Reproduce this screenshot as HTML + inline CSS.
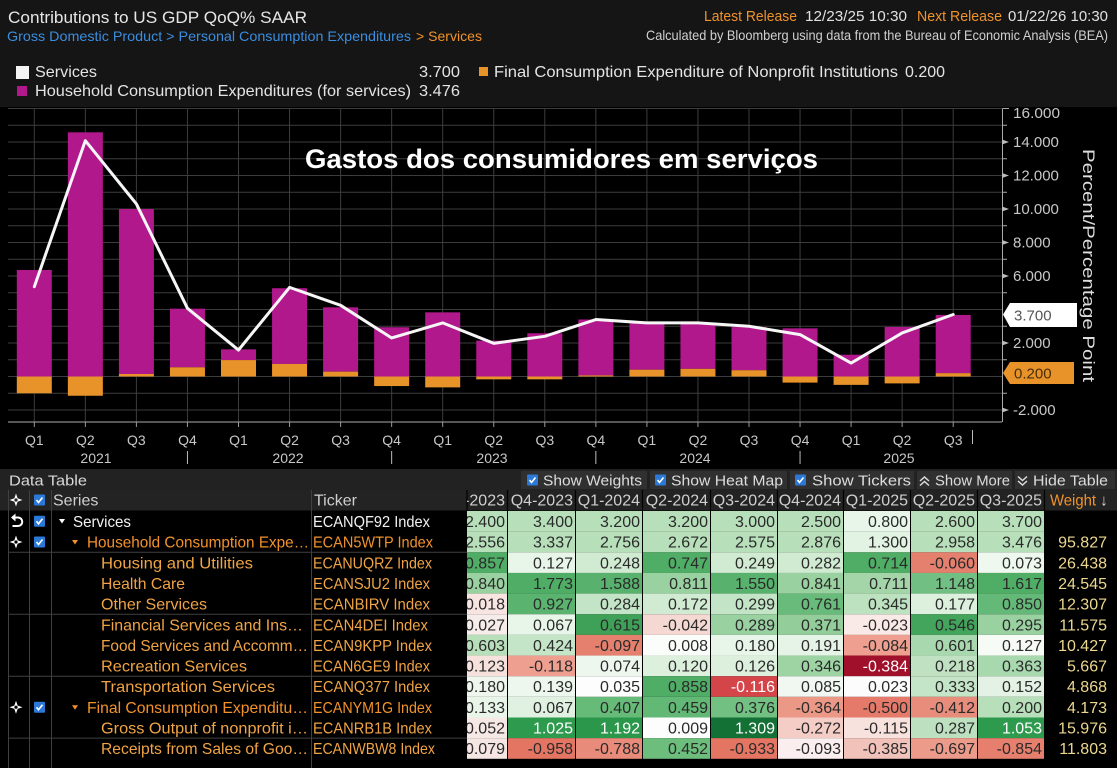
<!DOCTYPE html>
<html><head><meta charset="utf-8"><style>
html,body{margin:0;padding:0;background:#000;width:1117px;height:768px;overflow:hidden}
svg{display:block}
text{font-family:"Liberation Sans",sans-serif}
</style></head><body>
<svg width="1117" height="768" viewBox="0 0 1117 768" xmlns="http://www.w3.org/2000/svg">
<defs><clipPath id="c0"><rect x="467" y="488" width="40" height="280"/></clipPath></defs>
<rect x="0" y="0" width="1117" height="768" fill="#000"/>
<!-- header -->
<rect x="0" y="0" width="1117" height="107" fill="#151515"/>
<text x="8" y="23" font-size="17" fill="#e6e6e6" textLength="299" lengthAdjust="spacingAndGlyphs">Contributions to US GDP QoQ% SAAR</text>
<text x="7" y="41" font-size="14" fill="#3b8de0" textLength="404" lengthAdjust="spacingAndGlyphs">Gross Domestic Product &gt; Personal Consumption Expenditures</text>
<text x="416" y="41" font-size="14" fill="#f0932b" textLength="66" lengthAdjust="spacingAndGlyphs">&gt; Services</text>
<text x="704" y="21" font-size="15" fill="#f0932b" textLength="93" lengthAdjust="spacingAndGlyphs">Latest Release</text>
<text x="805" y="21" font-size="15" fill="#e0e0e0" textLength="102" lengthAdjust="spacingAndGlyphs">12/23/25 10:30</text>
<text x="917" y="21" font-size="15" fill="#f0932b" textLength="85" lengthAdjust="spacingAndGlyphs">Next Release</text>
<text x="1008" y="21" font-size="15" fill="#e0e0e0" textLength="100" lengthAdjust="spacingAndGlyphs">01/22/26 10:30</text>
<text x="646" y="40" font-size="14" fill="#d0d0d0" textLength="462" lengthAdjust="spacingAndGlyphs">Calculated by Bloomberg using data from the Bureau of Economic Analysis (BEA)</text>
<rect x="16" y="66" width="13" height="13" fill="#f4f4f4"/>
<text x="35" y="77" font-size="16" fill="#e4e4e4" textLength="62" lengthAdjust="spacingAndGlyphs">Services</text>
<text x="419" y="77" font-size="16" fill="#e4e4e4" textLength="41" lengthAdjust="spacingAndGlyphs">3.700</text>
<rect x="479" y="67" width="9" height="9" fill="#e8922a"/>
<text x="494" y="77" font-size="16" fill="#e4e4e4" textLength="404" lengthAdjust="spacingAndGlyphs">Final Consumption Expenditure of Nonprofit Institutions</text>
<text x="905" y="77" font-size="16" fill="#e4e4e4" textLength="40" lengthAdjust="spacingAndGlyphs">0.200</text>
<rect x="17" y="86" width="10" height="10" fill="#b0188c"/>
<text x="35" y="96" font-size="16" fill="#e4e4e4" textLength="376" lengthAdjust="spacingAndGlyphs">Household Consumption Expenditures (for services)</text>
<text x="419" y="96" font-size="16" fill="#e4e4e4" textLength="41" lengthAdjust="spacingAndGlyphs">3.476</text>

<!-- chart grid -->
<g stroke="#3d3d3d" stroke-width="1" fill="none">
<path d="M8 108.5H1002M8 125.25H1002M8 142H1002M8 158.75H1002M8 175.5H1002M8 192.25H1002M8 209H1002M8 225.75H1002M8 242.5H1002M8 259.25H1002M8 276H1002M8 292.75H1002M8 309.5H1002M8 326.25H1002M8 343H1002M8 359.75H1002M8 376.5H1002M8 393.25H1002M8 410H1002"/>
<path d="M34.3 108V422M85.35 108V422M136.4 108V422M187.45 108V422M238.5 108V422M289.55 108V422M340.6 108V422M391.65 108V422M442.7 108V422M493.75 108V422M544.8 108V422M595.85 108V422M646.9 108V422M697.95 108V422M749 108V422M800.05 108V422M851.1 108V422M902.15 108V422M953.2 108V422"/>
</g>
<!-- bars magenta -->
<g fill="#b0188c">
<rect x="16.8" y="269.97" width="35" height="106.53"/>
<rect x="67.85" y="132.3" width="35" height="244.2"/>
<rect x="118.9" y="209" width="35" height="164.99"/>
<rect x="169.95" y="308.66" width="35" height="58.63"/>
<rect x="221" y="349.36" width="35" height="10.72"/>
<rect x="272.05" y="288.23" width="35" height="75.71"/>
<rect x="323.1" y="307.32" width="35" height="64.32"/>
<rect x="374.15" y="327.25" width="35" height="49.25"/>
<rect x="425.2" y="312.35" width="35" height="64.15"/>
<rect x="476.25" y="340.65" width="35" height="35.85"/>
<rect x="527.3" y="333.28" width="35" height="43.22"/>
<rect x="578.35" y="319.48" width="35" height="55.9"/>
<rect x="629.4" y="323.52" width="35" height="46.16"/>
<rect x="680.45" y="324.06" width="35" height="44.75"/>
<rect x="731.5" y="327.07" width="35" height="43.13"/>
<rect x="782.55" y="328.33" width="35" height="48.17"/>
<rect x="833.6" y="354.72" width="35" height="21.78"/>
<rect x="884.65" y="326.95" width="35" height="49.55"/>
<rect x="935.7" y="314.93" width="35" height="58.22"/>
</g>
<g fill="#e8922a">
<rect x="16.8" y="376.5" width="35" height="16.75"/>
<rect x="67.85" y="376.5" width="35" height="19.26"/>
<rect x="118.9" y="373.99" width="35" height="2.51"/>
<rect x="169.95" y="367.29" width="35" height="9.21"/>
<rect x="221" y="360.08" width="35" height="16.42"/>
<rect x="272.05" y="363.94" width="35" height="12.56"/>
<rect x="323.1" y="371.64" width="35" height="4.86"/>
<rect x="374.15" y="376.5" width="35" height="9.55"/>
<rect x="425.2" y="376.5" width="35" height="10.89"/>
<rect x="476.25" y="376.5" width="35" height="2.85"/>
<rect x="527.3" y="376.5" width="35" height="2.85"/>
<rect x="578.35" y="375.38" width="35" height="1.12"/>
<rect x="629.4" y="369.68" width="35" height="6.82"/>
<rect x="680.45" y="368.81" width="35" height="7.69"/>
<rect x="731.5" y="370.2" width="35" height="6.3"/>
<rect x="782.55" y="376.5" width="35" height="6.1"/>
<rect x="833.6" y="376.5" width="35" height="8.38"/>
<rect x="884.65" y="376.5" width="35" height="6.9"/>
<rect x="935.7" y="373.15" width="35" height="3.35"/>
</g>
<polyline fill="none" stroke="#f6f6f6" stroke-width="3" stroke-linejoin="round" stroke-linecap="round" points="34.3,286.72 85.35,140.66 136.4,203.97 187.45,308.33 238.5,350.03 289.55,287.39 340.6,305.31 391.65,337.97 442.7,322.9 493.75,343.33 544.8,336.3 595.85,319.55 646.9,322.9 697.95,322.9 749,326.25 800.05,334.62 851.1,363.1 902.15,332.95 953.2,314.52"/>
<text x="305" y="168" font-size="27" font-weight="bold" fill="#ffffff" textLength="513" lengthAdjust="spacingAndGlyphs">Gastos dos consumidores em serviços</text>

<!-- right axis -->
<g stroke="#aaaaaa" stroke-width="1" fill="none">
<path d="M1002.5 108.5V422M1002.5 108.5H1009"/>
<path d="M1002 125.25H1007M1002 158.75H1007M1002 192.25H1007M1002 225.75H1007M1002 259.25H1007M1002 292.75H1007M1002 326.25H1007M1002 359.75H1007M1002 393.25H1007"/>
</g>
<g fill="#bbbbbb">
<polygon points="1002,139.5 1009,142 1002,144.5"/>
<polygon points="1002,173 1009,175.5 1002,178"/>
<polygon points="1002,206.5 1009,209 1002,211.5"/>
<polygon points="1002,240 1009,242.5 1002,245"/>
<polygon points="1002,273.5 1009,276 1002,278.5"/>
<polygon points="1002,340.5 1009,343 1002,345.5"/>
<polygon points="1002,407.5 1009,410 1002,412.5"/>
</g>
<g font-size="15" fill="#c8c8c8">
<text x="1013" y="118" textLength="47" lengthAdjust="spacingAndGlyphs">16.000</text>
<text x="1013" y="147">14.000</text>
<text x="1013" y="180.5">12.000</text>
<text x="1013" y="214">10.000</text>
<text x="1013" y="247.5">8.000</text>
<text x="1013" y="281">6.000</text>
<text x="1013" y="348">2.000</text>
<text x="1013" y="415">-2.000</text>
</g>
<polygon points="1003,314.5 1010,303 1077,303 1077,327 1010,327" fill="#ffffff"/>
<text x="1014" y="320.5" font-size="15" fill="#555555">3.700</text>
<polygon points="1003,373 1010,362 1074,362 1074,384 1010,384" fill="#e8922a"/>
<text x="1014" y="378.5" font-size="15" fill="#4a2e08">0.200</text>
<text transform="translate(1083,149) rotate(90)" x="0" y="0" font-size="17" fill="#dddddd" textLength="233" lengthAdjust="spacingAndGlyphs">Percent/Percentage Point</text>

<!-- bottom axis -->
<path d="M8 422H1002" stroke="#8a8a8a" stroke-width="1.2"/>
<g stroke="#9a9a9a" stroke-width="1">
<path d="M34.3 422V427M85.35 422V427M136.4 422V427M187.45 422V427M238.5 422V427M289.55 422V427M340.6 422V427M391.65 422V427M442.7 422V427M493.75 422V427M544.8 422V427M595.85 422V427M646.9 422V427M697.95 422V427M749 422V427M800.05 422V427M851.1 422V427M902.15 422V427M953.2 422V427"/>
<path d="M187.45 451V464M391.65 451V464M595.85 451V464M800.05 451V464M972.5 430V444" stroke="#bbbbbb"/>
</g>
<g font-size="14" fill="#c8c8c8" text-anchor="middle">
<text x="34.3" y="445">Q1</text><text x="85.35" y="445">Q2</text><text x="136.4" y="445">Q3</text><text x="187.45" y="445">Q4</text>
<text x="238.5" y="445">Q1</text><text x="289.55" y="445">Q2</text><text x="340.6" y="445">Q3</text><text x="391.65" y="445">Q4</text>
<text x="442.7" y="445">Q1</text><text x="493.75" y="445">Q2</text><text x="544.8" y="445">Q3</text><text x="595.85" y="445">Q4</text>
<text x="646.9" y="445">Q1</text><text x="697.95" y="445">Q2</text><text x="749" y="445">Q3</text><text x="800.05" y="445">Q4</text>
<text x="851.1" y="445">Q1</text><text x="902.15" y="445">Q2</text><text x="953.2" y="445">Q3</text>
<text x="96" y="463">2021</text><text x="288" y="463">2022</text><text x="492" y="463">2023</text><text x="695" y="463">2024</text><text x="899" y="463">2025</text>
</g>

<!-- data table bar -->
<rect x="0" y="469" width="1117" height="21" fill="#222222"/>
<text x="9" y="485.5" font-size="15" fill="#d8d8d8" textLength="78" lengthAdjust="spacingAndGlyphs">Data Table</text>
<g fill="#303030">
<rect x="521" y="471" width="126" height="18"/>
<rect x="650" y="471" width="137" height="18"/>
<rect x="790" y="471" width="124" height="18"/>
<rect x="917" y="471" width="95" height="18"/>
<rect x="1015" y="471" width="100" height="18"/>
</g>
<g fill="#2b78d6"><rect x="527" y="474.5" width="11" height="11" rx="1"/><rect x="655" y="474.5" width="11" height="11" rx="1"/><rect x="795" y="474.5" width="11" height="11" rx="1"/></g>
<g stroke="#ffffff" stroke-width="1.6" fill="none"><path d="M529.5 480 L531.5 482.5 L535.5 477.5"/><path d="M657.5 480 L659.5 482.5 L663.5 477.5"/><path d="M797.5 480 L799.5 482.5 L803.5 477.5"/></g>
<g stroke="#dddddd" stroke-width="1.5" fill="none"><path d="M920 481 L924.5 477 L929 481 M920 485.5 L924.5 481.5 L929 485.5"/><path d="M1018 476.5 L1022.5 480.5 L1027 476.5 M1018 481 L1022.5 485 L1027 481"/></g>
<g font-size="15" fill="#dcdcdc">
<text x="543" y="485.5" textLength="99" lengthAdjust="spacingAndGlyphs">Show Weights</text>
<text x="671" y="485.5" textLength="112" lengthAdjust="spacingAndGlyphs">Show Heat Map</text>
<text x="812" y="485.5" textLength="99" lengthAdjust="spacingAndGlyphs">Show Tickers</text>
<text x="935" y="485.5" textLength="75" lengthAdjust="spacingAndGlyphs">Show More</text>
<text x="1033" y="485.5" textLength="75" lengthAdjust="spacingAndGlyphs">Hide Table</text>
</g>

<!-- header row -->
<rect x="0" y="490" width="1117" height="20.5" fill="#232323"/>
<g stroke="#000" stroke-width="1.2"><path d="M507.5 490V511M575.5 490V511M642.5 490V511M710.5 490V511M777.5 490V511M843.5 490V511M910.5 490V511M977.5 490V511M1044.5 490V511M467 490V511"/></g>
<g stroke="#404040" stroke-width="1"><path d="M8.5 490V768M29.5 490V768M51.5 490V768M311.5 490V768"/>
<path d="M8 552.3H467M8 614.25H467M8 676.2H467M8 738.15H467"/></g>
<g font-size="16" fill="#cfcfcf">
<text x="53" y="505.5">Series</text>
<text x="314" y="505.5">Ticker</text>
<g text-anchor="end">
<text x="505" y="505.5" clip-path="url(#c0)">Q3-2023</text>
<text x="573" y="505.5">Q4-2023</text><text x="640" y="505.5">Q1-2024</text><text x="708" y="505.5">Q2-2024</text><text x="775" y="505.5">Q3-2024</text><text x="841" y="505.5">Q4-2024</text><text x="908" y="505.5">Q1-2025</text><text x="975" y="505.5">Q2-2025</text><text x="1042" y="505.5">Q3-2025</text>
</g>
<text x="1050" y="505.5" fill="#f0932b" textLength="46" lengthAdjust="spacingAndGlyphs">Weight</text>
<text x="1100" y="505.5" fill="#cfcfcf">↓</text>
</g>

<!-- icons -->
<g id="xh">
<path d="M16 493.5 L18.2 500 L16 506.5 L13.8 500 Z M9.5 500 L16 497.8 L22.5 500 L16 502.2 Z" fill="#ffffff"/><circle cx="16" cy="500" r="1.6" fill="#232323"/>
</g>
<path d="M16 535.5 L18.2 542 L16 548.5 L13.8 542 Z M9.5 542 L16 539.8 L22.5 542 L16 544.2 Z" fill="#ffffff"/><circle cx="16" cy="542" r="1.6" fill="#000"/>
<path d="M16 700.7 L18.2 707.2 L16 713.7 L13.8 707.2 Z M9.5 707.2 L16 705 L22.5 707.2 L16 709.4 Z" fill="#ffffff"/><circle cx="16" cy="707.2" r="1.6" fill="#000"/>
<path d="M11 517.5 L15.5 513.5 L15.5 521.5 Z" fill="#ffffff"/>
<path d="M15 517.5 H18 A4.2 4.2 0 0 1 18 526 H12.5" stroke="#ffffff" stroke-width="2" fill="none"/>
<g fill="#2b78d6"><rect x="34" y="494.5" width="11" height="11" rx="1"/><rect x="34" y="515.8" width="11" height="11" rx="1"/><rect x="34" y="536.5" width="11" height="11" rx="1"/><rect x="34" y="701.7" width="11" height="11" rx="1"/></g>
<g stroke="#ffffff" stroke-width="1.6" fill="none"><path d="M36.5 500 L38.5 502.5 L42.5 497.5"/><path d="M36.5 521.3 L38.5 523.8 L42.5 518.8"/><path d="M36.5 542 L38.5 544.5 L42.5 539.5"/><path d="M36.5 707.2 L38.5 709.7 L42.5 704.7"/></g>
<polygon points="59,519 65,519 62,523.5" fill="#ffffff"/>
<polygon points="72,540 78,540 75,544.5" fill="#f2922c"/>
<polygon points="72,705.2 78,705.2 75,709.7" fill="#f2922c"/>

<!-- series names & tickers -->
<g font-size="16">
<text x="73" y="527" fill="#f2f2f2" textLength="58" lengthAdjust="spacingAndGlyphs">Services</text>
<text x="313" y="527" fill="#f2f2f2" textLength="117" lengthAdjust="spacingAndGlyphs">ECANQF92 Index</text>
<g fill="#f2922c">
<text x="87" y="547.65" textLength="222" lengthAdjust="spacingAndGlyphs">Household Consumption Expe…</text>
<text x="313" y="547.65" textLength="120" lengthAdjust="spacingAndGlyphs">ECAN5WTP Index</text>
<text x="87" y="712.85" textLength="221" lengthAdjust="spacingAndGlyphs">Final Consumption Expenditu…</text>
<text x="313" y="712.85" textLength="119" lengthAdjust="spacingAndGlyphs">ECANYM1G Index</text>
</g>
<g fill="#f0a445">
<text x="101" y="568.3" textLength="152" lengthAdjust="spacingAndGlyphs">Housing and Utilities</text>
<text x="313" y="568.3" textLength="119" lengthAdjust="spacingAndGlyphs">ECANUQRZ Index</text>
<text x="101" y="588.95" textLength="84" lengthAdjust="spacingAndGlyphs">Health Care</text>
<text x="313" y="588.95" textLength="117" lengthAdjust="spacingAndGlyphs">ECANSJU2 Index</text>
<text x="101" y="609.6" textLength="106" lengthAdjust="spacingAndGlyphs">Other Services</text>
<text x="313" y="609.6" textLength="117" lengthAdjust="spacingAndGlyphs">ECANBIRV Index</text>
<text x="101" y="630.25" textLength="202" lengthAdjust="spacingAndGlyphs">Financial Services and Ins…</text>
<text x="313" y="630.25" textLength="115" lengthAdjust="spacingAndGlyphs">ECAN4DEI Index</text>
<text x="101" y="650.9" textLength="207" lengthAdjust="spacingAndGlyphs">Food Services and Accomm…</text>
<text x="313" y="650.9" textLength="119" lengthAdjust="spacingAndGlyphs">ECAN9KPP Index</text>
<text x="101" y="671.55" textLength="146" lengthAdjust="spacingAndGlyphs">Recreation Services</text>
<text x="313" y="671.55" textLength="117" lengthAdjust="spacingAndGlyphs">ECAN6GE9 Index</text>
<text x="101" y="692.2" textLength="174" lengthAdjust="spacingAndGlyphs">Transportation Services</text>
<text x="313" y="692.2" textLength="117" lengthAdjust="spacingAndGlyphs">ECANQ377 Index</text>
<text x="101" y="733.5" textLength="207" lengthAdjust="spacingAndGlyphs">Gross Output of nonprofit i…</text>
<text x="313" y="733.5" textLength="119" lengthAdjust="spacingAndGlyphs">ECANRB1B Index</text>
<text x="101" y="754.15" textLength="207" lengthAdjust="spacingAndGlyphs">Receipts from Sales of Goo…</text>
<text x="313" y="754.15" textLength="122" lengthAdjust="spacingAndGlyphs">ECANWBW8 Index</text>
</g>
</g>

<!-- heat map cells -->
<g>
<!-- row 0 Services -->
<g transform="translate(0,511)">
<rect x="467" width="40" height="20.65" fill="#b7dfba"/><rect x="508" width="67" height="20.65" fill="#b7dfba"/><rect x="576" width="66" height="20.65" fill="#b7dfba"/><rect x="643" width="67" height="20.65" fill="#b7dfba"/><rect x="711" width="66" height="20.65" fill="#b7dfba"/><rect x="778" width="65" height="20.65" fill="#b7dfba"/><rect x="844" width="66" height="20.65" fill="#e8f5e9"/><rect x="911" width="66" height="20.65" fill="#b7dfba"/><rect x="978" width="66" height="20.65" fill="#b7dfba"/>
</g>
<g transform="translate(0,531.65)">
<rect x="467" width="40" height="20.65" fill="#b7dfba"/><rect x="508" width="67" height="20.65" fill="#b7dfba"/><rect x="576" width="66" height="20.65" fill="#b7dfba"/><rect x="643" width="67" height="20.65" fill="#b7dfba"/><rect x="711" width="66" height="20.65" fill="#b7dfba"/><rect x="778" width="65" height="20.65" fill="#b7dfba"/><rect x="844" width="66" height="20.65" fill="#e2f2e3"/><rect x="911" width="66" height="20.65" fill="#b7dfba"/><rect x="978" width="66" height="20.65" fill="#b7dfba"/>
</g>
<g transform="translate(0,552.3)">
<rect x="467" width="40" height="20.65" fill="#4fad66"/><rect x="508" width="67" height="20.65" fill="#e8f5e9"/><rect x="576" width="66" height="20.65" fill="#d0ebd2"/><rect x="643" width="67" height="20.65" fill="#4fad66"/><rect x="711" width="66" height="20.65" fill="#d0ebd2"/><rect x="778" width="65" height="20.65" fill="#d0ebd2"/><rect x="844" width="66" height="20.65" fill="#4fad66"/><rect x="911" width="66" height="20.65" fill="#e6806e"/><rect x="978" width="66" height="20.65" fill="#eef8ef"/>
</g>
<g transform="translate(0,572.95)">
<rect x="467" width="40" height="20.65" fill="#9ad1a1"/><rect x="508" width="67" height="20.65" fill="#4fad66"/><rect x="576" width="66" height="20.65" fill="#58b16d"/><rect x="643" width="67" height="20.65" fill="#9ad1a1"/><rect x="711" width="66" height="20.65" fill="#58b16d"/><rect x="778" width="65" height="20.65" fill="#9ad1a1"/><rect x="844" width="66" height="20.65" fill="#a3d5a9"/><rect x="911" width="66" height="20.65" fill="#72bf83"/><rect x="978" width="66" height="20.65" fill="#4fad66"/>
</g>
<g transform="translate(0,593.6)">
<rect x="467" width="40" height="20.65" fill="#f8e5e1"/><rect x="508" width="67" height="20.65" fill="#5ab46f"/><rect x="576" width="66" height="20.65" fill="#c3e4c6"/><rect x="643" width="67" height="20.65" fill="#d0ebd2"/><rect x="711" width="66" height="20.65" fill="#c3e4c6"/><rect x="778" width="65" height="20.65" fill="#68bb7b"/><rect x="844" width="66" height="20.65" fill="#bde2c0"/><rect x="911" width="66" height="20.65" fill="#dcf0dd"/><rect x="978" width="66" height="20.65" fill="#64b978"/>
</g>
<g transform="translate(0,614.25)">
<rect x="467" width="40" height="20.65" fill="#f6ece9"/><rect x="508" width="67" height="20.65" fill="#e8f5e9"/><rect x="576" width="66" height="20.65" fill="#3fa158"/><rect x="643" width="67" height="20.65" fill="#f5d8d2"/><rect x="711" width="66" height="20.65" fill="#9ad1a1"/><rect x="778" width="65" height="20.65" fill="#92cd9a"/><rect x="844" width="66" height="20.65" fill="#f9eae7"/><rect x="911" width="66" height="20.65" fill="#43a45c"/><rect x="978" width="66" height="20.65" fill="#9ad1a1"/>
</g>
<g transform="translate(0,634.9)">
<rect x="467" width="40" height="20.65" fill="#b7dfba"/><rect x="508" width="67" height="20.65" fill="#c5e5c8"/><rect x="576" width="66" height="20.65" fill="#e6806e"/><rect x="643" width="67" height="20.65" fill="#fbfdfb"/><rect x="711" width="66" height="20.65" fill="#e8f5e9"/><rect x="778" width="65" height="20.65" fill="#e6f4e7"/><rect x="844" width="66" height="20.65" fill="#ee9f8f"/><rect x="911" width="66" height="20.65" fill="#a8d8ad"/><rect x="978" width="66" height="20.65" fill="#f6fbf6"/>
</g>
<g transform="translate(0,655.55)">
<rect x="467" width="40" height="20.65" fill="#f6e1dc"/><rect x="508" width="67" height="20.65" fill="#ee9f8f"/><rect x="576" width="66" height="20.65" fill="#eef7ee"/><rect x="643" width="67" height="20.65" fill="#dcf0dd"/><rect x="711" width="66" height="20.65" fill="#dcf0dd"/><rect x="778" width="65" height="20.65" fill="#9ed3a4"/><rect x="844" width="66" height="20.65" fill="#a0102b"/><rect x="911" width="66" height="20.65" fill="#c0e2c3"/><rect x="978" width="66" height="20.65" fill="#a8d9ae"/>
</g>
<g transform="translate(0,676.2)">
<rect x="467" width="40" height="20.65" fill="#eef6ee"/><rect x="508" width="67" height="20.65" fill="#eef7ee"/><rect x="576" width="66" height="20.65" fill="#fdfdfd"/><rect x="643" width="67" height="20.65" fill="#4fad66"/><rect x="711" width="66" height="20.65" fill="#d4454a"/><rect x="778" width="65" height="20.65" fill="#f1f8f1"/><rect x="844" width="66" height="20.65" fill="#fcfcfc"/><rect x="911" width="66" height="20.65" fill="#c5e5c8"/><rect x="978" width="66" height="20.65" fill="#e3f2e4"/>
</g>
<g transform="translate(0,696.85)">
<rect x="467" width="40" height="20.65" fill="#e8f5e8"/><rect x="508" width="67" height="20.65" fill="#e0f1e1"/><rect x="576" width="66" height="20.65" fill="#67bb79"/><rect x="643" width="67" height="20.65" fill="#62b875"/><rect x="711" width="66" height="20.65" fill="#72c082"/><rect x="778" width="65" height="20.65" fill="#eb9887"/><rect x="844" width="66" height="20.65" fill="#e57a6a"/><rect x="911" width="66" height="20.65" fill="#e88d7c"/><rect x="978" width="66" height="20.65" fill="#b6dfba"/>
</g>
<g transform="translate(0,717.5)">
<rect x="467" width="40" height="20.65" fill="#f5e8e5"/><rect x="508" width="67" height="20.65" fill="#2e9a4e"/><rect x="576" width="66" height="20.65" fill="#2a974b"/><rect x="643" width="67" height="20.65" fill="#fdfdfd"/><rect x="711" width="66" height="20.65" fill="#137135"/><rect x="778" width="65" height="20.65" fill="#f4cdc6"/><rect x="844" width="66" height="20.65" fill="#f8e2de"/><rect x="911" width="66" height="20.65" fill="#bde1c0"/><rect x="978" width="66" height="20.65" fill="#2e9a4e"/>
</g>
<g transform="translate(0,738.15)">
<rect x="467" width="40" height="20.65" fill="#f5e6e3"/><rect x="508" width="67" height="20.65" fill="#e47563"/><rect x="576" width="66" height="20.65" fill="#e98b7a"/><rect x="643" width="67" height="20.65" fill="#6dbd7d"/><rect x="711" width="66" height="20.65" fill="#e47563"/><rect x="778" width="65" height="20.65" fill="#fbeeee"/><rect x="844" width="66" height="20.65" fill="#f1c2b9"/><rect x="911" width="66" height="20.65" fill="#ec9a8a"/><rect x="978" width="66" height="20.65" fill="#e67f6e"/>
</g>
</g>

<!-- cell values -->
<g font-size="16" fill="#2a2a2a" text-anchor="end">
<g clip-path="url(#c0)">
<text x="505" y="527">2.400</text><text x="505" y="547.65">2.556</text><text x="505" y="568.3">0.857</text><text x="505" y="588.95">0.840</text><text x="505" y="609.6">-0.018</text><text x="505" y="630.25">-0.027</text><text x="505" y="650.9">0.603</text><text x="505" y="671.55">-0.123</text><text x="505" y="692.2">0.180</text><text x="505" y="712.85">0.133</text><text x="505" y="733.5">-0.052</text><text x="505" y="754.15">-0.079</text>
</g>
<!-- row 0 -->
<text x="573" y="527">3.400</text><text x="640" y="527">3.200</text><text x="708" y="527">3.200</text><text x="775" y="527">3.000</text><text x="841" y="527">2.500</text><text x="908" y="527">0.800</text><text x="975" y="527">2.600</text><text x="1042" y="527">3.700</text>
<text x="573" y="547.65">3.337</text><text x="640" y="547.65">2.756</text><text x="708" y="547.65">2.672</text><text x="775" y="547.65">2.575</text><text x="841" y="547.65">2.876</text><text x="908" y="547.65">1.300</text><text x="975" y="547.65">2.958</text><text x="1042" y="547.65">3.476</text>
<text x="573" y="568.3">0.127</text><text x="640" y="568.3">0.248</text><text x="708" y="568.3">0.747</text><text x="775" y="568.3">0.249</text><text x="841" y="568.3">0.282</text><text x="908" y="568.3">0.714</text><text x="975" y="568.3">-0.060</text><text x="1042" y="568.3">0.073</text>
<text x="573" y="588.95">1.773</text><text x="640" y="588.95">1.588</text><text x="708" y="588.95">0.811</text><text x="775" y="588.95">1.550</text><text x="841" y="588.95">0.841</text><text x="908" y="588.95">0.711</text><text x="975" y="588.95">1.148</text><text x="1042" y="588.95">1.617</text>
<text x="573" y="609.6">0.927</text><text x="640" y="609.6">0.284</text><text x="708" y="609.6">0.172</text><text x="775" y="609.6">0.299</text><text x="841" y="609.6">0.761</text><text x="908" y="609.6">0.345</text><text x="975" y="609.6">0.177</text><text x="1042" y="609.6">0.850</text>
<text x="573" y="630.25">0.067</text><text x="640" y="630.25">0.615</text><text x="708" y="630.25">-0.042</text><text x="775" y="630.25">0.289</text><text x="841" y="630.25">0.371</text><text x="908" y="630.25">-0.023</text><text x="975" y="630.25">0.546</text><text x="1042" y="630.25">0.295</text>
<text x="573" y="650.9">0.424</text><text x="640" y="650.9">-0.097</text><text x="708" y="650.9">0.008</text><text x="775" y="650.9">0.180</text><text x="841" y="650.9">0.191</text><text x="908" y="650.9">-0.084</text><text x="975" y="650.9">0.601</text><text x="1042" y="650.9">0.127</text>
<text x="573" y="671.55">-0.118</text><text x="640" y="671.55">0.074</text><text x="708" y="671.55">0.120</text><text x="775" y="671.55">0.126</text><text x="841" y="671.55">0.346</text><text x="908" y="671.55" fill="#ffffff">-0.384</text><text x="975" y="671.55">0.218</text><text x="1042" y="671.55">0.363</text>
<text x="573" y="692.2">0.139</text><text x="640" y="692.2">0.035</text><text x="708" y="692.2">0.858</text><text x="775" y="692.2" fill="#ffffff">-0.116</text><text x="841" y="692.2">0.085</text><text x="908" y="692.2">0.023</text><text x="975" y="692.2">0.333</text><text x="1042" y="692.2">0.152</text>
<text x="573" y="712.85">0.067</text><text x="640" y="712.85">0.407</text><text x="708" y="712.85">0.459</text><text x="775" y="712.85">0.376</text><text x="841" y="712.85">-0.364</text><text x="908" y="712.85">-0.500</text><text x="975" y="712.85">-0.412</text><text x="1042" y="712.85">0.200</text>
<text x="573" y="733.5" fill="#ffffff">1.025</text><text x="640" y="733.5" fill="#ffffff">1.192</text><text x="708" y="733.5">0.009</text><text x="775" y="733.5" fill="#ffffff">1.309</text><text x="841" y="733.5">-0.272</text><text x="908" y="733.5">-0.115</text><text x="975" y="733.5">0.287</text><text x="1042" y="733.5" fill="#ffffff">1.053</text>
<text x="573" y="754.15">-0.958</text><text x="640" y="754.15">-0.788</text><text x="708" y="754.15">0.452</text><text x="775" y="754.15">-0.933</text><text x="841" y="754.15">-0.093</text><text x="908" y="754.15">-0.385</text><text x="975" y="754.15">-0.697</text><text x="1042" y="754.15">-0.854</text>
</g>
<!-- weights -->
<g font-size="16" fill="#ecd88f" text-anchor="end">
<text x="1107" y="547.65">95.827</text><text x="1107" y="568.3">26.438</text><text x="1107" y="588.95">24.545</text><text x="1107" y="609.6">12.307</text><text x="1107" y="630.25">11.575</text><text x="1107" y="650.9">10.427</text><text x="1107" y="671.55">5.667</text><text x="1107" y="692.2">4.868</text><text x="1107" y="712.85">4.173</text><text x="1107" y="733.5">15.976</text><text x="1107" y="754.15">11.803</text>
</g>
</svg>
</body></html>
